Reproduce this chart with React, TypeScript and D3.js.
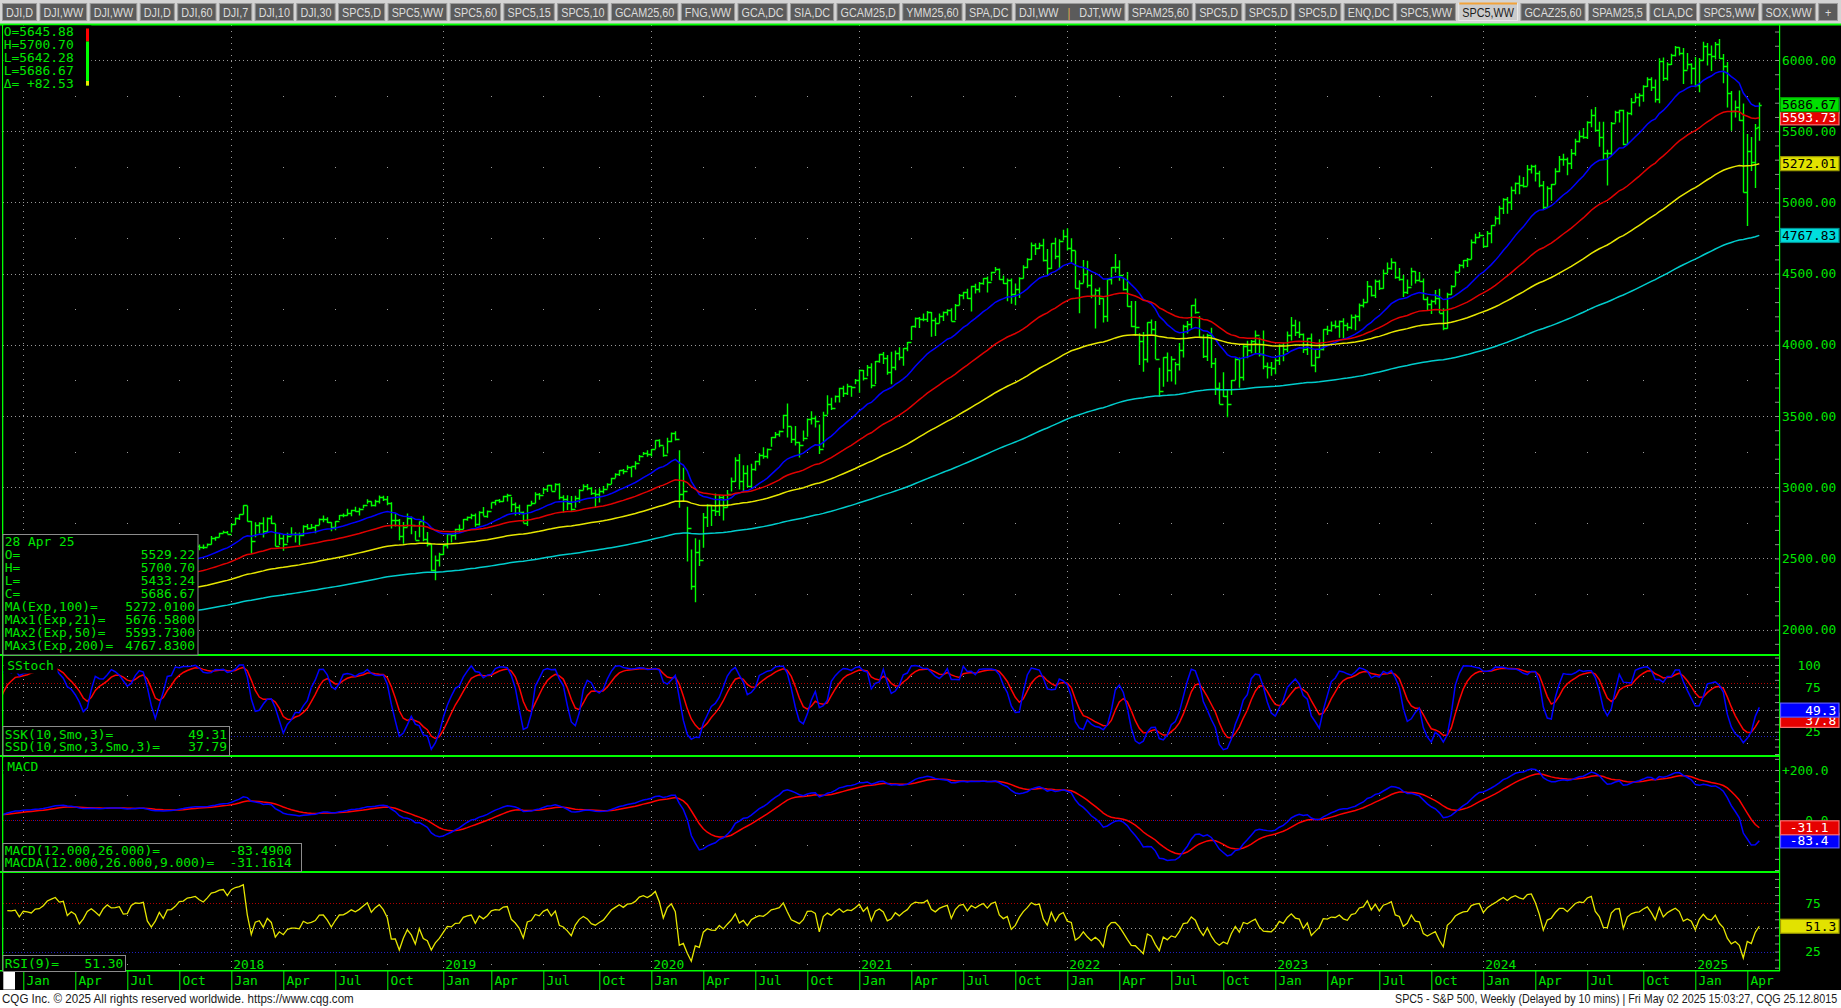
import React, { useEffect, useRef } from "react";
import * as d3 from "d3";

// ---------------- DATA ----------------
// Weekly bars (Monday dated), first bar = week of 3 Oct 2016, last = week of 28 Apr 2025
const firstWeekUTC = Date.UTC(2016, 9, 3);

const closes: number[] = [
  // 2016 (Oct 3 - Dec 26)
  2153.74, 2132.98, 2141.16, 2126.41, 2085.18, 2164.45, 2181.9, 2213.35, 2191.95, 2259.53, 2258.07, 2263.79, 2238.83,
  // 2017
  2276.98, 2274.64, 2271.31, 2294.69, 2297.42, 2316.1, 2351.16, 2367.34, 2383.12, 2372.6, 2378.25, 2343.98, 2362.72,
  2355.54, 2328.95, 2348.69, 2384.2, 2399.29, 2390.9, 2381.73, 2415.82, 2439.07, 2431.77, 2433.15, 2438.3, 2423.41,
  2425.18, 2459.27, 2472.54, 2472.1, 2476.83, 2441.32, 2425.55, 2443.05, 2476.55, 2461.43, 2500.23, 2502.22, 2519.36,
  2549.33, 2553.17, 2575.21, 2581.07, 2587.84, 2582.3, 2578.85, 2602.42, 2642.22, 2651.5, 2675.81, 2683.34, 2673.61,
  // 2018
  2743.15, 2786.24, 2810.3, 2872.87, 2762.13, 2619.55, 2732.22, 2747.3, 2691.25, 2786.57, 2752.01, 2588.26, 2640.87,
  2604.47, 2656.3, 2670.14, 2669.91, 2663.42, 2727.72, 2712.97, 2721.33, 2734.62, 2779.03, 2779.66, 2754.88, 2718.37,
  2759.82, 2801.31, 2801.83, 2818.82, 2840.35, 2833.28, 2850.13, 2874.69, 2901.52, 2871.68, 2904.98, 2929.67, 2913.98,
  2885.57, 2767.13, 2767.78, 2658.69, 2723.06, 2781.01, 2736.27, 2632.56, 2760.17, 2633.08, 2599.95, 2416.62, 2485.74,
  // 2019 (from Dec 31 2018)
  2531.94, 2596.26, 2670.71, 2664.76, 2706.53, 2707.88, 2775.6, 2792.67, 2803.69, 2743.07, 2822.48, 2800.71, 2834.4,
  2892.74, 2907.41, 2905.03, 2939.88, 2945.64, 2881.4, 2859.53, 2826.06, 2752.06, 2873.34, 2886.98, 2950.46, 2941.76,
  2990.41, 3013.77, 2976.61, 3025.86, 2932.05, 2918.65, 2888.68, 2847.11, 2926.46, 2978.71, 3007.39, 2992.07, 2961.79,
  2952.01, 2970.27, 2986.2, 3022.55, 3066.91, 3093.08, 3120.46, 3110.29, 3140.98, 3145.91, 3168.8, 3221.22, 3240.02,
  // 2020 (from Dec 30 2019)
  3234.85, 3265.35, 3329.62, 3295.47, 3225.52, 3327.71, 3380.16, 3337.75, 2954.22, 2972.37, 2711.02, 2304.92, 2541.47,
  2488.65, 2789.82, 2874.56, 2836.74, 2830.71, 2929.8, 2863.7, 2955.45, 3044.31, 3193.93, 3041.31, 3097.74, 3009.05,
  3130.01, 3185.04, 3224.73, 3215.63, 3271.12, 3351.28, 3372.85, 3397.16, 3508.01, 3426.96, 3340.97, 3319.47, 3298.46,
  3348.44, 3477.13, 3483.81, 3465.39, 3269.96, 3509.44, 3585.15, 3557.54, 3638.35, 3699.12, 3663.46, 3709.41, 3703.06,
  3756.07,
  // 2021
  3824.68, 3768.25, 3841.47, 3714.24, 3886.83, 3934.83, 3906.71, 3811.15, 3841.94, 3943.34, 3913.1, 3974.54, 4019.87,
  4128.8, 4185.47, 4180.17, 4181.17, 4232.6, 4173.85, 4155.86, 4204.11, 4229.89, 4247.44, 4166.45, 4280.7, 4352.34,
  4369.55, 4327.16, 4411.79, 4395.26, 4436.52, 4468.0, 4441.67, 4509.37, 4535.43, 4458.58, 4432.99, 4455.48, 4357.04,
  4391.34, 4471.37, 4544.9, 4605.38, 4697.53, 4682.85, 4697.96, 4594.62, 4538.43, 4712.02, 4620.64, 4725.79, 4766.18,
  // 2022
  4677.03, 4662.85, 4397.94, 4431.85, 4500.53, 4418.64, 4348.87, 4384.65, 4328.87, 4204.31, 4463.12, 4543.06, 4545.86,
  4488.28, 4392.59, 4271.78, 4131.93, 4123.34, 4023.89, 3901.36, 4158.24, 4108.54, 3900.86, 3674.84, 3911.74, 3825.33,
  3899.38, 3863.16, 3961.63, 4130.29, 4145.19, 4280.15, 4228.48, 4057.66, 3924.26, 4067.36, 3873.33, 3693.23, 3585.62,
  3639.66, 3583.07, 3752.75, 3901.06, 3770.55, 3992.93, 3965.34, 4026.12, 4071.7, 3934.38, 3852.36, 3844.82, 3839.5,
  // 2023
  3895.08, 3999.09, 3972.61, 4070.56, 4136.48, 4090.46, 4079.09, 3970.04, 4045.64, 3861.59, 3916.64, 3970.99, 4109.31,
  4105.02, 4137.64, 4133.52, 4169.48, 4136.25, 4124.08, 4191.98, 4205.45, 4282.37, 4298.86, 4409.59, 4348.33, 4450.38,
  4398.95, 4505.42, 4536.34, 4582.23, 4478.03, 4464.05, 4369.71, 4405.71, 4515.77, 4457.49, 4450.32, 4320.06, 4288.05,
  4308.5, 4327.78, 4224.16, 4117.37, 4358.34, 4415.24, 4514.02, 4559.34, 4594.63, 4604.37, 4719.19, 4754.63, 4769.83,
  // 2024
  4697.24, 4783.83, 4839.81, 4890.97, 4958.61, 5026.61, 5005.57, 5088.8, 5137.08, 5123.69, 5117.09, 5234.18, 5254.35,
  5204.34, 5123.41, 4967.23, 5099.96, 5127.79, 5222.68, 5303.27, 5304.72, 5277.51, 5346.99, 5431.6, 5464.62, 5460.48,
  5567.19, 5615.35, 5505.0, 5459.1, 5346.56, 5344.16, 5554.25, 5634.61, 5648.4, 5408.42, 5626.02, 5702.55, 5738.17,
  5751.07, 5815.03, 5864.67, 5808.12, 5728.8, 5995.54, 5870.62, 5969.34, 6032.38, 6090.27, 6051.09, 5930.85, 5970.84,
  5942.47,
  // 2025
  5827.04, 5996.66, 6101.24, 6040.53, 6025.99, 6114.63, 6013.13, 5954.5, 5770.2, 5638.94, 5667.56, 5580.94, 5074.08,
  5363.36, 5282.7, 5525.21, 5686.67,
];

const highs: number[] = [
  // 2016
  2169, 2150, 2148, 2154, 2131, 2182, 2189, 2214, 2214, 2260, 2277, 2272, 2273,
  // 2017
  2282, 2279, 2273, 2301, 2300, 2319, 2352, 2368, 2401, 2383, 2390, 2379, 2370,
  2378, 2365, 2362, 2399, 2400, 2403, 2406, 2419, 2440, 2446, 2441, 2454, 2441,
  2432, 2463, 2477, 2484, 2481, 2480, 2474, 2454, 2480, 2473, 2500, 2508, 2520,
  2552, 2557, 2576, 2582, 2588, 2597, 2597, 2605, 2657, 2652, 2680, 2695, 2692,
  // 2018
  2743, 2787, 2810, 2873, 2870, 2763, 2754, 2754, 2789, 2787, 2801, 2742, 2675,
  2672, 2680, 2718, 2683, 2682, 2732, 2742, 2742, 2736, 2780, 2801, 2789, 2754,
  2761, 2804, 2816, 2848, 2841, 2863, 2855, 2877, 2916, 2900, 2912, 2941, 2940,
  2939, 2895, 2814, 2776, 2756, 2815, 2795, 2693, 2760, 2800, 2685, 2601, 2520,
  // 2019
  2539, 2598, 2675, 2672, 2709, 2738, 2776, 2794, 2814, 2816, 2831, 2861, 2836,
  2893, 2910, 2917, 2940, 2954, 2931, 2892, 2876, 2830, 2876, 2905, 2964, 2959,
  2996, 3014, 3017, 3028, 3027, 2944, 2943, 2939, 2940, 2985, 3021, 3022, 3002,
  2983, 2993, 3008, 3027, 3067, 3098, 3121, 3127, 3154, 3146, 3183, 3226, 3248,
  // 2020
  3259, 3268, 3330, 3337, 3285, 3347, 3385, 3393, 3259, 3137, 2863, 2562, 2641,
  2631, 2818, 2880, 2871, 2955, 2945, 2945, 2981, 3068, 3211, 3233, 3155, 3154,
  3165, 3186, 3238, 3280, 3272, 3352, 3387, 3399, 3509, 3588, 3425, 3429, 3320,
  3398, 3482, 3534, 3502, 3440, 3529, 3646, 3628, 3644, 3699, 3712, 3726, 3711,
  3760,
  // 2021
  3826, 3823, 3859, 3870, 3887, 3937, 3950, 3928, 3951, 3960, 3983, 3976, 4020,
  4130, 4191, 4195, 4219, 4238, 4230, 4190, 4219, 4234, 4249, 4257, 4287, 4356,
  4372, 4393, 4415, 4429, 4441, 4468, 4480, 4513, 4546, 4536, 4486, 4466, 4465,
  4430, 4475, 4559, 4608, 4718, 4714, 4717, 4744, 4672, 4713, 4752, 4741, 4808,
  // 2022
  4819, 4749, 4661, 4453, 4596, 4590, 4490, 4395, 4402, 4327, 4465, 4546, 4637,
  4593, 4471, 4512, 4308, 4307, 4081, 4090, 4158, 4177, 4168, 3838, 3913, 3946,
  3919, 3880, 4013, 4141, 4167, 4280, 4325, 4203, 4073, 4077, 4119, 3907, 3736,
  3807, 3686, 3753, 3906, 3911, 4001, 4028, 4034, 4101, 4052, 4101, 3876, 3879,
  // 2023
  3906, 4003, 4015, 4094, 4195, 4176, 4163, 4080, 4049, 4079, 3964, 4039, 4110,
  4133, 4163, 4170, 4170, 4186, 4154, 4212, 4213, 4290, 4323, 4448, 4411, 4458,
  4456, 4528, 4578, 4607, 4584, 4540, 4490, 4458, 4541, 4516, 4511, 4465, 4338,
  4317, 4385, 4394, 4256, 4366, 4418, 4521, 4568, 4595, 4609, 4739, 4779, 4793,
  // 2024
  4754, 4799, 4842, 4903, 4976, 5030, 5038, 5111, 5140, 5189, 5179, 5262, 5265,
  5264, 5222, 5150, 5114, 5129, 5239, 5325, 5341, 5315, 5375, 5447, 5505, 5523,
  5570, 5655, 5670, 5566, 5566, 5370, 5564, 5643, 5651, 5651, 5637, 5734, 5767,
  5767, 5822, 5879, 5878, 5863, 6012, 6017, 5985, 6044, 6099, 6089, 6085, 6050,
  5978,
  // 2025
  6021, 6014, 6128, 6120, 6101, 6127, 6147, 6043, 5986, 5783, 5715, 5786, 5695,
  5481, 5459, 5551, 5700.7,
];

const lows: number[] = [
  // 2016
  2149, 2114, 2124, 2119, 2083, 2084, 2156, 2183, 2187, 2190, 2248, 2254, 2233,
  // 2017
  2245, 2254, 2258, 2257, 2267, 2288, 2313, 2348, 2361, 2354, 2358, 2322, 2330,
  2345, 2322, 2328, 2374, 2380, 2386, 2353, 2382, 2403, 2415, 2419, 2430, 2405,
  2407, 2415, 2453, 2459, 2462, 2437, 2420, 2417, 2428, 2446, 2474, 2496, 2488,
  2520, 2543, 2547, 2544, 2566, 2557, 2566, 2584, 2598, 2624, 2649, 2676, 2673,
  // 2018
  2682, 2737, 2769, 2808, 2759, 2532, 2648, 2675, 2647, 2681, 2741, 2585, 2594,
  2553, 2610, 2660, 2612, 2594, 2655, 2701, 2707, 2676, 2734, 2754, 2748, 2691,
  2698, 2770, 2789, 2800, 2796, 2828, 2802, 2853, 2884, 2864, 2864, 2886, 2903,
  2874, 2710, 2724, 2628, 2603, 2722, 2670, 2631, 2649, 2621, 2583, 2409, 2346,
  // 2019
  2443, 2524, 2570, 2612, 2631, 2681, 2705, 2764, 2775, 2722, 2731, 2800, 2785,
  2848, 2873, 2891, 2898, 2900, 2825, 2801, 2805, 2750, 2728, 2873, 2887, 2912,
  2952, 2966, 2975, 2976, 2914, 2822, 2840, 2834, 2856, 2891, 2979, 2978, 2946,
  2855, 2892, 2956, 2991, 3023, 3066, 3078, 3091, 3121, 3070, 3124, 3183, 3226,
  // 2020
  3213, 3215, 3270, 3281, 3214, 3236, 3315, 3328, 2855, 2901, 2478, 2280, 2192,
  2447, 2574, 2721, 2727, 2797, 2797, 2766, 2857, 2969, 3038, 2984, 2965, 2999,
  3000, 3115, 3154, 3199, 3201, 3284, 3344, 3354, 3410, 3349, 3310, 3292, 3209,
  3323, 3354, 3441, 3419, 3233, 3279, 3511, 3543, 3594, 3595, 3633, 3647, 3636,
  3723,
  // 2021
  3663, 3749, 3780, 3694, 3725, 3874, 3865, 3789, 3723, 3821, 3891, 3853, 3955,
  4034, 4119, 4118, 4166, 4160, 4057, 4062, 4152, 4167, 4206, 4165, 4174, 4278,
  4320, 4322, 4233, 4360, 4367, 4422, 4367, 4450, 4515, 4457, 4427, 4306, 4288,
  4278, 4329, 4465, 4537, 4595, 4630, 4672, 4585, 4495, 4532, 4600, 4531, 4734,
  // 2022
  4662, 4582, 4395, 4222, 4436, 4401, 4327, 4114, 4279, 4157, 4161, 4424, 4507,
  4450, 4381, 4267, 4124, 4062, 3859, 3810, 3875, 4074, 3900, 3637, 3705, 3741,
  3743, 3721, 3819, 3910, 4079, 4112, 4218, 4057, 3907, 3886, 3837, 3647, 3584,
  3633, 3491, 3647, 3752, 3698, 3750, 3906, 3940, 3940, 3918, 3828, 3764, 3783,
  // 2023
  3794, 3858, 3885, 3949, 4031, 4061, 4047, 3943, 3928, 3847, 3808, 3909, 3960,
  4069, 4091, 4114, 4049, 4048, 4099, 4109, 4103, 4166, 4262, 4297, 4339, 4328,
  4385, 4394, 4503, 4527, 4464, 4450, 4335, 4356, 4414, 4430, 4448, 4316, 4238,
  4216, 4283, 4223, 4103, 4113, 4352, 4414, 4510, 4537, 4547, 4600, 4710, 4751,
  // 2024
  4682, 4687, 4714, 4845, 4845, 4919, 4920, 4946, 5057, 5057, 5104, 5117, 5203,
  5146, 5107, 4953, 4970, 5011, 5127, 5211, 5257, 5191, 5234, 5327, 5420, 5447,
  5445, 5528, 5497, 5390, 5305, 5119, 5331, 5561, 5561, 5402, 5406, 5612, 5703,
  5674, 5707, 5811, 5783, 5702, 5696, 5853, 5856, 5965, 6024, 6031, 5832, 5933,
  5829,
  // 2025
  5809, 5773, 5996, 5962, 5923, 6003, 6008, 5837, 5666, 5504, 5597, 5572, 5069,
  4835, 5220, 5101, 5433.24,
];

const lastWeekOpen = 5529.22;

// EMA periods and their starting (pre-history) values
const emaPeriods = [21, 50, 100, 200];
const emaSeeds = [2150, 2100, 2065, 1940];
const macdSeeds = [2160, 2125, 35]; // EMA12, EMA26, signal

// Axis levels
const priceLevels = [2000, 2500, 3000, 3500, 4000, 4500, 5000, 5500, 6000];
const stochGrid = [100, 75, 50, 25];
const stochLabels = [100, 75, 25];
const macdLevels = [200, 0];
const rsiLabels = [75, 25];
const quarterNames = ["Jan", "Apr", "Jul", "Oct"];

// Right-axis value tags
const priceTagValues = [5676.58, 5593.73, 5272.01, 4767.83, 5686.67];
const priceTagTexts = ["5676.58", "5593.73", "5272.01", "4767.83", "5686.67"];
const stochTagValues = [37.79, 49.31];
const stochTagTexts = ["   37.8", "   49.3"];
const macdTagValues = [-31.16, -83.49];
const macdTagTexts = [" -31.1", " -83.4"];
const rsiTagValues = [51.3];
const rsiTagTexts = ["   51.3"];

// Text blocks
const quoteLines = ["O=5645.88", "H=5700.70", "L=5642.28", "L=5686.67", "\u0394= +82.53"];
const barInfo = [
  ["28 Apr 25", ""],
  ["O=", "5529.22"],
  ["H=", "5700.70"],
  ["L=", "5433.24"],
  ["C=", "5686.67"],
  ["MA(Exp,100)=", "5272.0100"],
  ["MAx1(Exp,21)=", "5676.5800"],
  ["MAx2(Exp,50)=", "5593.7300"],
  ["MAx3(Exp,200)=", "4767.8300"],
];
const stochInfo = [["SSK(10,Smo,3)=", "49.31"], ["SSD(10,Smo,3,Smo,3)=", "37.79"]];
const macdInfo = [["MACD(12.000,26.000)=", "-83.4900"], ["MACDA(12.000,26.000,9.000)=", "-31.1614"]];
const rsiInfo = [["RSI(9)=", "51.30"]];

const tabLabels = [
  "DJI,D", "DJI,WW", "DJI,WW", "DJI,D", "DJI,60", "DJI,7", "DJI,10", "DJI,30", "SPC5,D", "SPC5,WW",
  "SPC5,60", "SPC5,15", "SPC5,10", "GCAM25,60", "FNG,WW", "GCA,DC", "SIA,DC", "GCAM25,D", "YMM25,60",
  "SPA,DC", "DJI,WW | DJT,WW", "SPAM25,60", "SPC5,D", "SPC5,D", "SPC5,D", "ENQ,DC", "SPC5,WW", "SPC5,WW",
  "GCAZ25,60", "SPAM25,5", "CLA,DC", "SPC5,WW", "SOX,WW", "+",
];
const activeTab = 27;

const footerLeft = "CQG Inc. \u00A9 2025 All rights reserved worldwide. https://www.cqg.com";
const footerRight = "SPC5 - S&P 500, Weekly (Delayed by 10 mins) | Fri May 02 2025 15:03:27, CQG 25.12.8015";

// ---------------- INDICATORS ----------------
function ema(values: number[], period: number, seed: number) {
  const k = 2 / (period + 1);
  let e = seed;
  return values.map((v) => (e = e + k * (v - e)));
}
function sma(values: number[], p: number) {
  return values.map((_, i) => d3.mean(values.slice(Math.max(0, i - p + 1), i + 1)) as number);
}
function smoothed(values: number[], p: number) {
  let s = values[0];
  return values.map((v) => (s = (s * (p - 1) + v) / p));
}
function rsiWilder(c: number[], p: number) {
  const out: (number | null)[] = c.map(() => null);
  let g = 0, l = 0;
  for (let i = 1; i < c.length; i++) {
    const d = c[i] - c[i - 1];
    const up = Math.max(d, 0), dn = Math.max(-d, 0);
    if (i <= p) {
      g += up / p; l += dn / p;
      if (i === p) out[i] = 100 - 100 / (1 + g / l);
    } else {
      g = (g * (p - 1) + up) / p;
      l = (l * (p - 1) + dn) / p;
      out[i] = l === 0 ? 100 : 100 - 100 / (1 + g / l);
    }
  }
  return out;
}

// ---------------- DRAW ----------------
function draw(el: SVGSVGElement) {
  const svg = d3.select(el);
  svg.selectAll("*").remove();
  const W = 1841, H = 1008;
  const L = 3, R = 1779;
  const TOP = 25, PB = 655, SB = 756, MB = 872, RB = 970, XB = 990;
  const MONO = "'DejaVu Sans Mono', 'Liberation Mono', monospace";
  const FS = 12.9;
  const TXT = "#00e600";
  const BRIGHT = "#00ff00";
  const GRID = "#9a9a9a";

  const n = closes.length;
  const dates = d3.range(n).map((i) => new Date(firstWeekUTC + i * 7 * 86400000));
  const x = d3.scaleUtc().domain([new Date(Date.UTC(2017, 0, 2)), new Date(Date.UTC(2025, 3, 28))]).range([23.3, 1759.3]);
  const xi = (i: number) => x(dates[i]);
  const opens = closes.map((c, i) => (i === n - 1 ? lastWeekOpen : i === 0 ? c : closes[i - 1]));

  const yP = d3.scaleLinear().domain([2000, 6000]).range([629.6, 60]);
  const yS = d3.scaleLinear().domain([0, 100]).range([754, 665]);
  const yM = d3.scaleLinear().domain([-200, 200]).range([870, 770]);
  const yR = d3.scaleLinear().domain([25, 75]).range([951.7, 903.3]);

  // backgrounds
  svg.append("rect").attr("width", W).attr("height", H).attr("fill", "#000");
  svg.append("rect").attr("x", 0).attr("y", 0).attr("width", W).attr("height", 24).attr("fill", "#d4d4d4");
  svg.append("rect").attr("x", 0).attr("y", XB).attr("width", W).attr("height", H - XB).attr("fill", "#fff");

  // ---- tabs ----
  const TABF = "'Liberation Sans', Arial, sans-serif";
  const TABFS = 12;
  const tabG = svg.append("g");
  const textW = tabLabels.map((lab) => {
    const t = tabG.append("text").attr("font-family", TABF).attr("font-size", TABFS).style("white-space", "pre")
      .text(lab.replace(" | ", "   |   "));
    const w = (t.node() as SVGTextElement).getComputedTextLength();
    t.remove();
    return w;
  });
  const gap = 2.4;
  const raw = textW.map((w) => Math.max(w + 9, 22));
  const scale = (1836 - gap * (tabLabels.length - 1)) / d3.sum(raw);
  let cx = 2;
  tabLabels.forEach((lab, i) => {
    const w = raw[i] * scale;
    const active = i === activeTab;
    tabG.append("rect").attr("x", cx + 0.5).attr("y", 3.5).attr("width", w - 1).attr("height", 17)
      .attr("fill", active ? "#cbcbcb" : "#5b5b5b").attr("stroke", active ? "#e8e8e8" : "#9c9c9c").attr("stroke-width", 1);
    if (active) tabG.append("rect").attr("x", cx + 1).attr("y", 2.5).attr("width", w - 2).attr("height", 2).attr("fill", "#f2a33a");
    const t = tabG.append("text").attr("x", cx + w / 2).attr("y", 16.5).attr("text-anchor", "middle")
      .attr("font-family", TABF).attr("font-size", TABFS).attr("fill", active ? "#1c1c1c" : "#dcdcdc").style("white-space", "pre");
    const tl = textW[i] * Math.min(1, scale);
    if (lab.includes(" | ")) {
      const [a, b] = lab.split(" | ");
      t.append("tspan").text(a + "   ");
      t.append("tspan").attr("fill", "#e0b050").text("|");
      t.append("tspan").text("   " + b);
    } else t.text(lab);
    t.attr("textLength", tl).attr("lengthAdjust", "spacingAndGlyphs");
    cx += w + gap;
  });

  // ---- clip paths ----
  const defs = svg.append("defs");
  const clip = (id: string, y0: number, y1: number) =>
    defs.append("clipPath").attr("id", id).append("rect").attr("x", L).attr("y", y0).attr("width", R - L).attr("height", y1 - y0);
  clip("cp-price", TOP, PB);
  clip("cp-stoch", PB + 1, SB);
  clip("cp-macd", SB + 1, MB);
  clip("cp-rsi", MB + 1, RB);

  // ---- ticks on time axis ----
  const monthIdx = d3.range(1, n).filter((i) => dates[i].getUTCMonth() !== dates[i - 1].getUTCMonth() && dates[i].getUTCMonth() % 3 === 0);
  const janIdx = monthIdx.filter((i) => dates[i].getUTCMonth() === 0);
  const qIdx = monthIdx.filter((i) => dates[i].getUTCMonth() !== 0);

  const crisp = (v: number) => Math.round(v) + 0.5;
  const gridG = svg.append("g");
  const hLine = (y: number, color: string, dash: string, x0 = L) =>
    gridG.append("line").attr("x1", x0).attr("x2", R).attr("y1", crisp(y)).attr("y2", crisp(y)).attr("stroke", color).attr("stroke-width", 1).attr("stroke-dasharray", dash);

  priceLevels.forEach((v) => hLine(yP(v), GRID, "1 3"));
  stochGrid.forEach((v) => hLine(yS(v), GRID, "1 3"));
  hLine(yS(80), "#b00000", "1 2");
  hLine(yS(20), "#2020c0", "1 2");
  hLine(yM(200), GRID, "1 3");
  hLine(yM(0), "#b00000", "1 3");
  gridG.append("line").attr("x1", L + 2).attr("x2", R).attr("y1", crisp(yM(0))).attr("y2", crisp(yM(0))).attr("stroke", "#2020c0").attr("stroke-dasharray", "1 3");
  hLine(yR(50), GRID, "1 3");
  hLine(yR(75), "#b00000", "1 2");
  hLine(yR(25), "#2020c0", "1 2");

  janIdx.forEach((i) => {
    gridG.append("line").attr("x1", crisp(xi(i))).attr("x2", crisp(xi(i))).attr("y1", TOP).attr("y2", RB)
      .attr("stroke", GRID).attr("stroke-dasharray", "1 5");
  });
  const dotLevels = [
    ...d3.range(2250, 6500, 500).map((v) => yP(v)),
    yS(87.5), yS(12.5), yM(100), yM(-100), yR(62.5), yR(12.5),
  ];
  qIdx.forEach((i) => {
    dotLevels.forEach((y) => {
      gridG.append("rect").attr("x", Math.round(xi(i))).attr("y", Math.round(y)).attr("width", 1).attr("height", 1).attr("fill", GRID);
    });
  });

  // ---- price bars ----
  const priceG = svg.append("g").attr("clip-path", "url(#cp-price)");
  let pth = "";
  for (let i = 0; i < n; i++) {
    const xc = crisp(xi(i));
    const yh = yP(highs[i]), yl = yP(lows[i]);
    const yo = crisp(yP(opens[i])), yc = crisp(yP(closes[i]));
    pth += `M${xc},${yh}V${yl}M${xc - 2.2},${yo}H${xc}M${xc},${yc}H${xc + 2.2}`;
  }
  priceG.append("path").attr("d", pth).attr("fill", "none").attr("stroke", BRIGHT).attr("stroke-width", 1.4);

  // ---- EMAs ----
  const emaColors = ["#0000ff", "#e00000", "#e6e600", "#00cccc"];
  emaPeriods.forEach((p, k) => {
    const e = ema(closes, p, emaSeeds[k]);
    const line = d3.line<number>().x((_, i) => xi(i)).y((v) => yP(v));
    priceG.append("path").attr("d", line(e) as string).attr("fill", "none").attr("stroke", emaColors[k]).attr("stroke-width", 1.5);
  });

  // ---- Stochastic ----
  const rawK = closes.map((c, i) => {
    const s = Math.max(0, i - 9);
    const hh = d3.max(highs.slice(s, i + 1)) as number;
    const ll = d3.min(lows.slice(s, i + 1)) as number;
    return hh === ll ? 50 : ((c - ll) / (hh - ll)) * 100;
  });
  const ssk = sma(rawK, 3);
  const ssd = smoothed(ssk, 3);
  const stochG = svg.append("g").attr("clip-path", "url(#cp-stoch)");
  const sLine = d3.line<number>().x((_, i) => xi(i)).y((v) => yS(v));
  stochG.append("path").attr("d", sLine(ssd) as string).attr("fill", "none").attr("stroke", "#ff0000").attr("stroke-width", 1.5);
  stochG.append("path").attr("d", sLine(ssk) as string).attr("fill", "none").attr("stroke", "#0000ff").attr("stroke-width", 1.5);

  // ---- MACD ----
  const e12 = ema(closes, 12, macdSeeds[0]);
  const e26 = ema(closes, 26, macdSeeds[1]);
  const macd = e12.map((v, i) => v - e26[i]);
  const sig = ema(macd, 9, macdSeeds[2]);
  const macdG = svg.append("g").attr("clip-path", "url(#cp-macd)");
  const mLine = d3.line<number>().x((_, i) => xi(i)).y((v) => yM(v));
  macdG.append("path").attr("d", mLine(sig) as string).attr("fill", "none").attr("stroke", "#ff0000").attr("stroke-width", 1.5);
  macdG.append("path").attr("d", mLine(macd) as string).attr("fill", "none").attr("stroke", "#0000ff").attr("stroke-width", 1.5);

  // ---- RSI ----
  const rsi = rsiWilder(closes, 9);
  const rsiG = svg.append("g").attr("clip-path", "url(#cp-rsi)");
  const rLine = d3.line<number | null>().defined((v) => v !== null).x((_, i) => xi(i)).y((v) => yR(v as number));
  rsiG.append("path").attr("d", rLine(rsi) as string).attr("fill", "none").attr("stroke", "#e6e600").attr("stroke-width", 1.3);

  // ---- year labels (the first one sits under the RSI box and is not shown) ----
  janIdx.filter((i) => xi(i) > 130).forEach((i) => {
    svg.append("text").attr("x", xi(i) + 2).attr("y", 968.5).attr("font-family", MONO).attr("font-size", FS).attr("fill", TXT)
      .text(String(dates[i].getUTCFullYear()));
  });

  // ---- panel borders ----
  const bord = svg.append("g");
  bord.append("rect").attr("x", 0).attr("y", 23.5).attr("width", W).attr("height", 2).attr("fill", BRIGHT);
  [PB, SB, MB].forEach((y) => bord.append("rect").attr("x", 0).attr("y", y - 1).attr("width", R + 1).attr("height", 2).attr("fill", BRIGHT));
  bord.append("rect").attr("x", 0).attr("y", RB).attr("width", R + 1).attr("height", 1.5).attr("fill", BRIGHT);
  bord.append("rect").attr("x", 2).attr("y", 24).attr("width", 1.3).attr("height", RB - 24).attr("fill", BRIGHT);
  bord.append("rect").attr("x", R).attr("y", 24).attr("width", 1.2).attr("height", RB - 24 + 1).attr("fill", BRIGHT);

  // ---- right axes ----
  const styleAxis = (g: any) => {
    g.select(".domain").remove();
    g.selectAll(".tick text").attr("font-family", MONO).attr("font-size", FS).attr("fill", TXT)
      .attr("xml:space", "preserve").style("white-space", "pre");
    g.selectAll(".tick line").attr("stroke", GRID);
  };
  const minor = (scaleY: any, vals: number[]) => {
    const g = svg.append("g").attr("transform", `translate(${R},0)`)
      .call(d3.axisLeft(scaleY).tickValues(vals).tickSize(4).tickFormat(() => "") as any);
    g.select(".domain").remove();
    g.selectAll(".tick line").attr("stroke", "#8a8a8a");
  };
  minor(yP, d3.range(1900, 6300, 100));
  minor(yS, d3.range(0, 111, 25 / 3));
  minor(yM, d3.range(-200, 260, 200 / 4.5));
  minor(yR, d3.range(8.5, 106, 25 / 3));

  svg.append("g").attr("transform", `translate(${R},0)`)
    .call(d3.axisRight(yP).tickValues(priceLevels).tickSize(0).tickPadding(3).tickFormat(d3.format(".2f")) as any)
    .call(styleAxis);
  svg.append("g").attr("transform", `translate(${R},0)`)
    .call(d3.axisRight(yS).tickValues(stochLabels).tickSize(0).tickPadding(3).tickFormat((d: any) => String(d).padStart(5, " ")) as any)
    .call(styleAxis);
  svg.append("g").attr("transform", `translate(${R},0)`)
    .call(d3.axisRight(yM).tickValues(macdLevels).tickSize(0).tickPadding(3).tickFormat((d: any) => (d > 0 ? "+" : " ") + (d3.format(".1f")(d)).padStart(5, " ")) as any)
    .call(styleAxis);
  svg.append("g").attr("transform", `translate(${R},0)`)
    .call(d3.axisRight(yR).tickValues(rsiLabels).tickSize(0).tickPadding(3).tickFormat((d: any) => String(d).padStart(5, " ")) as any)
    .call(styleAxis);

  // ---- value tags ----
  const tag = (y: number, txt: string, fill: string, stroke: string, ink: string) => {
    const g = svg.append("g");
    g.append("rect").attr("x", R + 1.5).attr("y", y - 7).attr("width", 58.5).attr("height", 14)
      .attr("fill", fill).attr("stroke", stroke).attr("stroke-width", 1.2);
    g.append("text").attr("x", R + 3).attr("y", y + 4.6).attr("font-family", MONO).attr("font-size", FS)
      .attr("fill", ink).attr("xml:space", "preserve").style("white-space", "pre").text(txt);
  };
  const priceTagStyle = [
    ["#0000ff", "#5a5aff", "#ffffff"],
    ["#e60000", "#ff7070", "#ffffff"],
    ["#e2e200", "#9a9a00", "#000000"],
    ["#00dede", "#009090", "#000000"],
    ["#00e000", "#009a00", "#000000"],
  ];
  const tagOrder = [0, 2, 3, 1, 4];
  tagOrder.forEach((k) => tag(yP(priceTagValues[k]), priceTagTexts[k], priceTagStyle[k][0], priceTagStyle[k][1], priceTagStyle[k][2]));
  tag(yS(stochTagValues[0]), stochTagTexts[0], "#e60000", "#ff7070", "#ffffff");
  tag(yS(stochTagValues[1]), stochTagTexts[1], "#0000ff", "#5a5aff", "#ffffff");
  tag(yM(macdTagValues[1]), macdTagTexts[1], "#0000ff", "#5a5aff", "#ffffff");
  tag(yM(macdTagValues[0]), macdTagTexts[0], "#e60000", "#ff7070", "#ffffff");
  tag(yR(rsiTagValues[0]), rsiTagTexts[0], "#e2e200", "#9a9a00", "#000000");

  // ---- time axis ----
  svg.append("rect").attr("x", 3.3).attr("y", 971).attr("width", 11.7).attr("height", 18.5).attr("fill", "#ffffff");
  const xAxisG = svg.append("g").attr("transform", `translate(0,${RB + 1})`)
    .call(d3.axisBottom(x).tickValues(monthIdx.map((i) => dates[i])).tickSize(19)
      .tickFormat((d: any) => quarterNames[Math.floor((d as Date).getUTCMonth() / 3)]) as any);
  xAxisG.select(".domain").remove();
  xAxisG.selectAll(".tick line").attr("stroke", BRIGHT);
  xAxisG.selectAll(".tick text").attr("text-anchor", "start").attr("x", 2.7).attr("y", 14).attr("dy", 0)
    .attr("font-family", MONO).attr("font-size", FS).attr("fill", TXT);

  // ---- info boxes ----
  const infoBox = (x0: number, y0: number, x1: number, y1: number, rows: string[][], firstCenter: number, step: number, valueRight: number) => {
    const g = svg.append("g");
    g.append("rect").attr("x", x0 + 0.5).attr("y", y0 + 0.5).attr("width", x1 - x0).attr("height", y1 - y0)
      .attr("fill", "#000").attr("stroke", "#8c8c8c").attr("stroke-width", 1);
    rows.forEach((r, k) => {
      const yb = firstCenter + k * step + 4.6;
      g.append("text").attr("x", x0 + 2.2).attr("y", yb).attr("font-family", MONO).attr("font-size", FS).attr("fill", TXT).text(r[0]);
      if (r[1]) g.append("text").attr("x", valueRight).attr("y", yb).attr("text-anchor", "end")
        .attr("font-family", MONO).attr("font-size", FS).attr("fill", TXT).text(r[1]);
    });
  };
  infoBox(2.5, 534, 197.5, 654.5, barInfo, 541.7, 12.95, 195);
  infoBox(2.5, 726, 229, 755, stochInfo, 734.3, 12.4, 227);
  infoBox(2.5, 843, 301, 871, macdInfo, 850.7, 12.0, 291.7);
  infoBox(2.5, 955, 125, 971, rsiInfo, 963.3, 0, 123.3);

  // panel titles
  const title = (txt: string, yc: number, w: number) => {
    svg.append("rect").attr("x", 3.5).attr("y", yc - 8).attr("width", w).attr("height", 16).attr("fill", "#000");
    svg.append("text").attr("x", 7.3).attr("y", yc + 4.6).attr("font-family", MONO).attr("font-size", FS).attr("fill", TXT).text(txt);
  };
  title("SStoch", 665.5, 54);
  title("MACD", 766, 40);

  // ---- quote block (top-left) ----
  svg.append("rect").attr("x", 3.3).attr("y", 25.5).attr("width", 88).attr("height", 62).attr("fill", "#000");
  quoteLines.forEach((t, k) => {
    svg.append("text").attr("x", 3.8).attr("y", 31.7 + k * 12.9 + 4.6).attr("font-family", MONO).attr("font-size", FS).attr("fill", TXT).text(t);
  });
  svg.append("rect").attr("x", 86).attr("y", 28.5).attr("width", 3).attr("height", 13).attr("fill", "#ff0000");
  svg.append("rect").attr("x", 86).attr("y", 41.5).attr("width", 3).attr("height", 44).attr("fill", "#00ff00");
  svg.append("rect").attr("x", 86).attr("y", 81).attr("width", 3).attr("height", 4.5).attr("fill", "#e8e800");

  // ---- footer (condensed by horizontal scaling to the reference widths) ----
  const FF = "'Liberation Sans', Arial, sans-serif";
  const footer = (txt: string, xStart: number, width: number) => {
    const t = svg.append("text").attr("x", 0).attr("y", 0).attr("font-family", FF).attr("font-size", 12.5).attr("fill", "#1a1a1a").text(txt);
    const natural = (t.node() as SVGTextElement).getComputedTextLength();
    t.attr("transform", `translate(${xStart},1003) scale(${width / natural},1)`);
  };
  footer(footerLeft, 2, 352);
  footer(footerRight, 1395, 443);
}

export default function App() {
  const ref = useRef<SVGSVGElement>(null);
  useEffect(() => {
    document.body.style.margin = "0";
    document.body.style.background = "#000";
    if (ref.current) draw(ref.current);
  }, []);
  return <svg ref={ref} width={1841} height={1008} style={{ display: "block" }} />;
}
